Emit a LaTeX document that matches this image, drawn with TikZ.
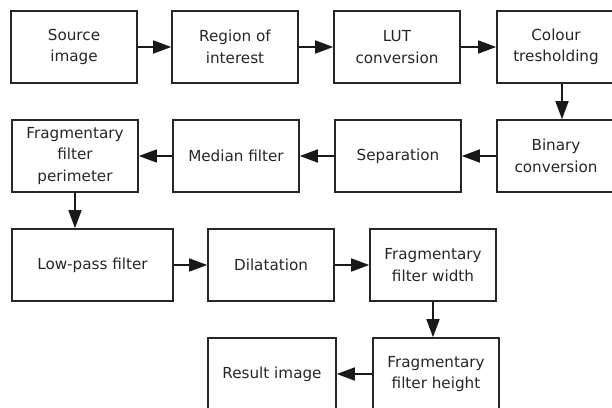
\documentclass[tikz,border=0pt]{standalone}
\usepackage{fontspec}
\setmainfont{DejaVu Sans}
\usetikzlibrary{arrows.meta}
\begin{document}
\begin{tikzpicture}[x=1pt,y=-1pt,
  box/.style={draw=black!85,line width=1.6pt,rectangle,minimum width=126pt,minimum height=72pt,inner sep=0pt,align=center,text=black!85,font=\fontsize{15.2}{21.5}\selectfont},
  arr/.style={draw=black!90,line width=1.6pt,-{Triangle[length=18pt,width=13pt]}}]
\useasboundingbox (0,0) rectangle (612,407);
\clip (0,0) rectangle (612,407);
\node[box] (src) at (74,47) {Source\\image};
\node[box] (roi) at (235,47) {Region of\\interest};
\node[box] (lut) at (397,47) {LUT\\conversion};
\node[box,minimum width=118pt] (col) at (556,47) {Colour\\tresholding};
\node[box] (per) at (75,156) {Fragmentary\\filter\\perimeter};
\node[box] (med) at (236,156) {Median filter};
\node[box] (sep) at (398,156) {Separation};
\node[box,minimum width=118pt] (bin) at (556,156) {Binary\\conversion};
\node[box,minimum width=161pt] (low) at (92.5,265) {Low-pass filter};
\node[box] (dil) at (271,265) {Dilatation};
\node[box] (fw) at (433,265) {Fragmentary\\filter width};
\node[box,minimum width=128pt] (res) at (272,374) {Result image};
\node[box] (fh) at (436,374) {Fragmentary\\filter height};
\draw[arr] (src) -- (roi);
\draw[arr] (roi) -- (lut);
\draw[arr] (lut) -- (col);
\draw[arr] ([xshift=6pt]col.south) -- ([xshift=6pt]bin.north);
\draw[arr] (bin) -- (sep);
\draw[arr] (sep) -- (med);
\draw[arr] (med) -- (per);
\draw[arr] (per.south) -- (per.south |- low.north);
\draw[arr] (low) -- (dil);
\draw[arr] (dil) -- (fw);
\draw[arr] (fw.south) -- (fw.south |- fh.north);
\draw[arr] (fh) -- (res);
\end{tikzpicture}
\end{document}
